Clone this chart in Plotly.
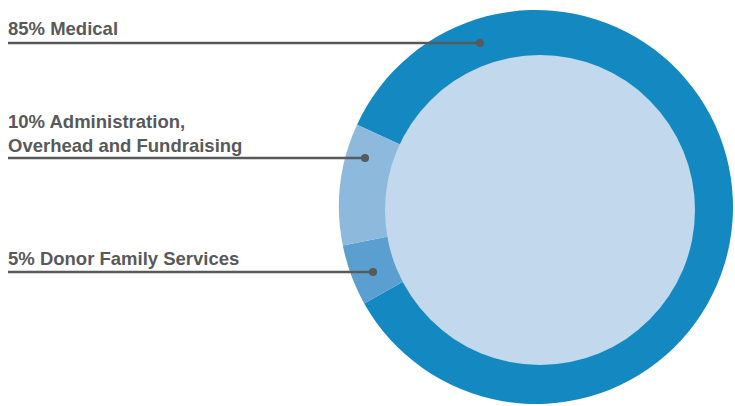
import plotly.graph_objects as go

# Data
categories = ["Medical", "Donor Family Services", "Administration, Overhead and Fundraising"]
values = [85, 5, 10]
labels_text = ["85% Medical", "5% Donor Family Services", "10% Administration,<br>Overhead and Fundraising"]
colors = ["#1489c1", "#5a9fd0", "#8cb9dc"]

W, H = 735, 406
TEXT = "#58595b"

# Ring geometry (pixels in the final picture)
cx, cy, R = 536, 207, 197
icx, icy, iR = 540, 210, 155

def px(x):
    return x / W

def py(y):
    return 1 - y / H

fig = go.Figure()
fig.add_trace(go.Pie(
    labels=categories,
    values=values,
    marker=dict(colors=colors, line=dict(width=0)),
    sort=False,
    direction="clockwise",
    rotation=-65.3,
    textinfo="none",
    hoverinfo="label+percent",
    showlegend=False,
    domain=dict(x=[px(cx - R), px(cx + R)], y=[py(cy + R), py(cy - R)]),
))

shapes = []
# inner light disc
shapes.append(dict(type="circle", xref="paper", yref="paper",
                   x0=px(icx - iR), x1=px(icx + iR), y0=py(icy + iR), y1=py(icy - iR),
                   fillcolor="#c2d8ec", line=dict(width=0), layer="above"))

# leader lines: (text y center, line y, line end x)
leaders = [
    (28, 43, 480),     # Medical
    (258, 272, 373),   # Donor
    (134, 158, 365),   # Admin
]
annotations = []
for (ty, ly, ex), txt in zip(leaders, labels_text):
    shapes.append(dict(type="line", xref="paper", yref="paper",
                       x0=px(8), x1=px(ex), y0=py(ly), y1=py(ly),
                       line=dict(color=TEXT, width=2.5)))
    shapes.append(dict(type="circle", xref="paper", yref="paper",
                       xsizemode="pixel", ysizemode="pixel",
                       xanchor=px(ex), yanchor=py(ly),
                       x0=-4, x1=4, y0=-4, y1=4,
                       fillcolor=TEXT, line=dict(width=0)))
    annotations.append(dict(xref="paper", yref="paper", x=px(6), y=py(ty),
                            xanchor="left", yanchor="middle", align="left",
                            text="<b>" + txt + "</b>", showarrow=False,
                            font=dict(family="Liberation Sans, Arial, sans-serif",
                                      size=18.5, color=TEXT)))

fig.update_layout(
    width=W, height=H,
    margin=dict(l=0, r=0, t=0, b=0),
    paper_bgcolor="white",
    plot_bgcolor="white",
    shapes=shapes,
    annotations=annotations,
)

fig.write_html(
    "out.html",
    config={"displayModeBar": False},
    post_script="document.body.style.margin='0';document.body.style.overflow='hidden';",
)
